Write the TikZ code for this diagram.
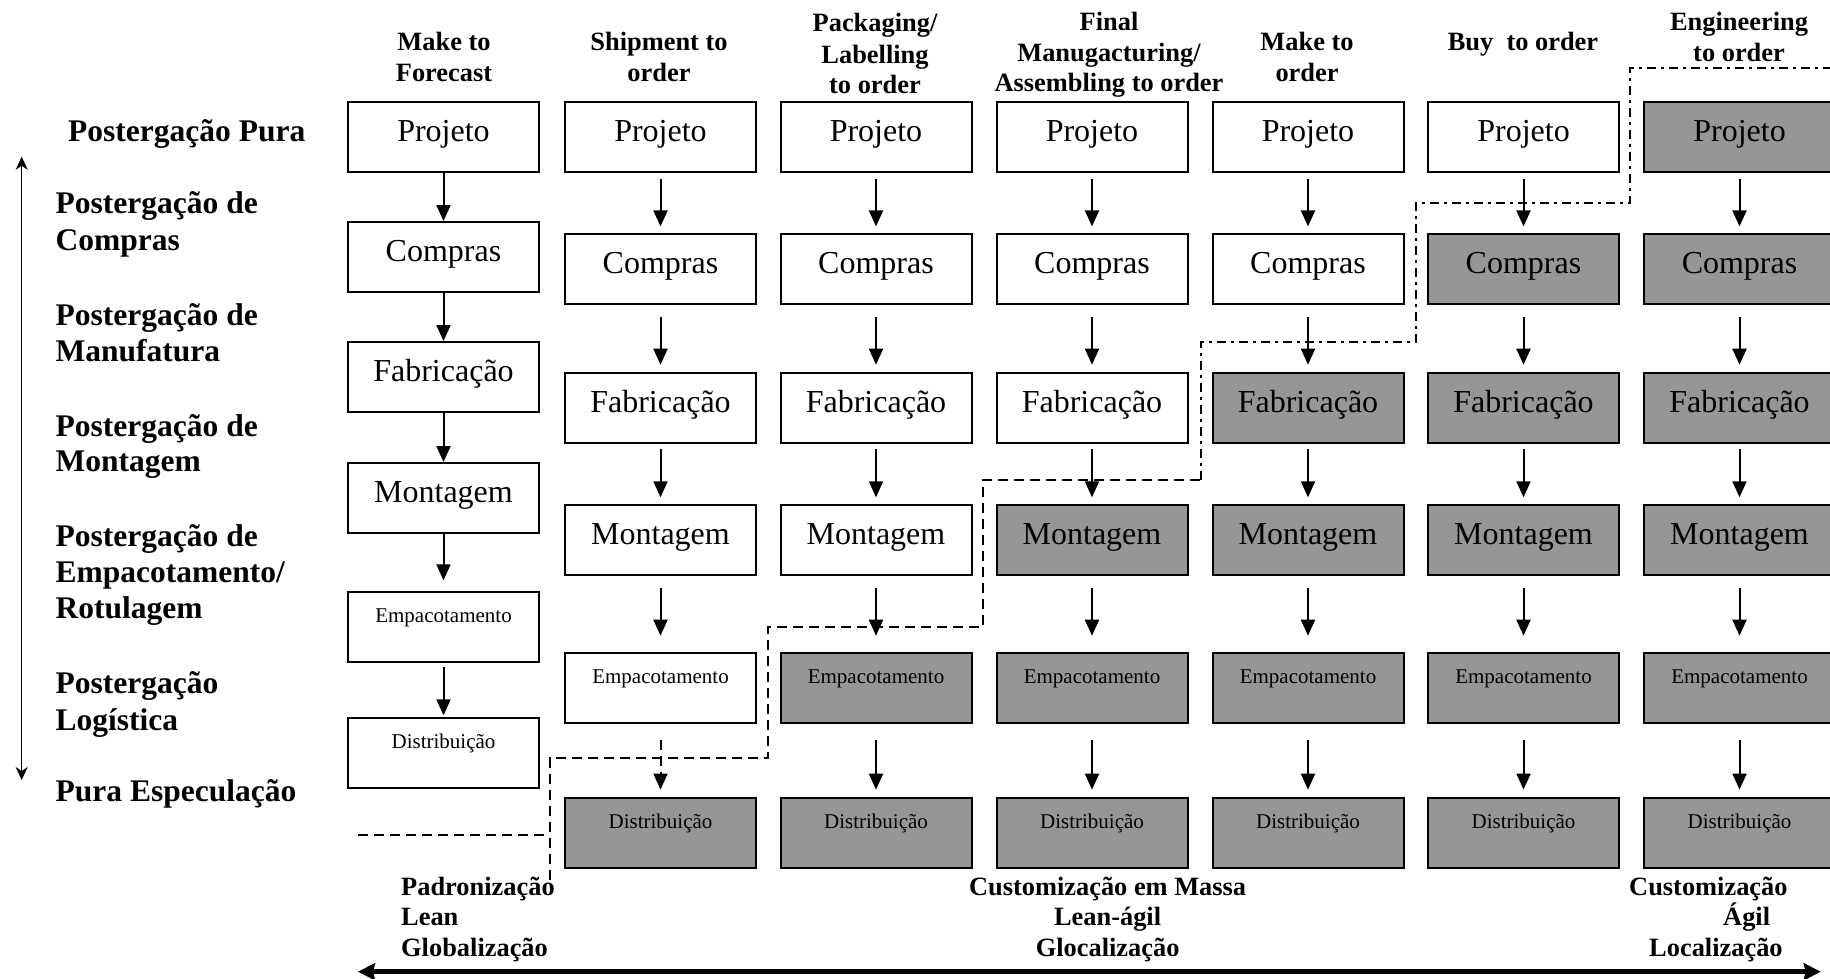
\documentclass[tikz,border=0pt]{standalone}
\usepackage{fontspec}
\setmainfont{Liberation Serif}
\usetikzlibrary{arrows.meta}
\definecolor{boxgray}{RGB}{150,150,150}
\begin{document}
\begin{tikzpicture}[x=1pt,y=-1pt,
  bigbox/.style={draw, line width=2pt, anchor=north west, minimum width=191pt, minimum height=70pt, inner sep=0pt, font=\fontsize{32}{38}\selectfont, text height=21.2pt, text depth=12pt},
  smallbox/.style={bigbox, font=\fontsize{21}{25}\selectfont, text height=13.9pt, text depth=23pt},
  arr/.style={line width=2pt, -{Triangle[length=16pt,width=14pt]}},
  hdr/.style={font=\bfseries\fontsize{26.4}{31}\selectfont, anchor=base, inner sep=0pt},
  lbl/.style={font=\bfseries\fontsize{31.5}{37}\selectfont, anchor=base west, inner sep=0pt},
  btm/.style={font=\bfseries\fontsize{26.4}{31}\selectfont, inner sep=0pt},
  bound/.style={line width=2pt, dash pattern=on 10pt off 6pt},
  bounddot/.style={line width=2pt, dash pattern=on 9pt off 5pt on 3pt off 5pt},
  thinarr/.style={line width=1.5pt, {Stealth[length=13pt,width=12pt,inset=4pt]}-{Stealth[length=13pt,width=12pt,inset=4pt]}},
  thickarr/.style={line width=5pt, {Stealth[length=17pt,width=17pt,inset=2pt]}-{Stealth[length=17pt,width=17pt,inset=2pt]}}]
\useasboundingbox (0,0) rectangle (1830,978);

% column 1 (Make to Forecast)
\foreach \r/\y/\t/\s in {1/101/Projeto/bigbox, 2/221/Compras/bigbox, 3/341/Fabricação/bigbox, 4/462/Montagem/bigbox, 5/591/Empacotamento/smallbox, 6/717/Distribuição/smallbox}{
  \node[\s, fill=white] (c1r\r) at (347,\y) {\t};
}
% columns 2-7
\foreach \c/\x/\g in {2/564/6,3/779.5/5,4/995.5/4,5/1211.5/3,6/1427/2,7/1643/1}{
  \foreach \r/\y/\t/\s in {1/101/Projeto/bigbox, 2/233/Compras/bigbox, 3/372/Fabricação/bigbox, 4/504/Montagem/bigbox, 5/652/Empacotamento/smallbox, 6/797/Distribuição/smallbox}{
    \ifnum\r<\g \def\fillst{white}\else \def\fillst{boxgray}\fi
    \node[\s, fill=\fillst] (c\c r\r) at (\x,\y) {\t};
  }
}

% arrows column 1
\draw[arr] (c1r1) -- (c1r2);
\draw[arr] (c1r2) -- (c1r3);
\draw[arr] (c1r3) -- (c1r4);
\draw[arr, shorten >=10.7pt] (c1r4) -- (c1r5);
\draw[arr, shorten <=4pt, shorten >=1.7pt] (c1r5) -- (c1r6);
% arrows columns 2-7
\foreach \c in {2,...,7}{
  \foreach \r/\n/\s/\e in {1/2/5.7/6.6, 2/3/12.3/7.3, 3/4/5.3/6.7, 4/5/12.3/16.3}{
    \draw[arr, shorten <=\s pt, shorten >=\e pt] (c\c r\r) -- (c\c r\n);
  }
}
\foreach \c in {3,...,7}{
  \draw[arr, shorten <=15.7pt, shorten >=7.4pt] (c\c r5) -- (c\c r6);
}
\draw[arr, dash pattern=on 10pt off 6pt, shorten <=15.7pt, shorten >=7.4pt] (c2r5) -- (c2r6);

% boundary lines
\draw[bound] (358,835) -- (550,835);
\draw[bound] (550,880) -- (550,758.3) -- (768,758.3) -- (768,626.7) -- (983,626.7) -- (983,480) -- (1201,480);
\draw[bounddot] (1201,480) -- (1201,341.7) -- (1416,341.7) -- (1416,203.3) -- (1630,203.3) -- (1630,68.3) -- (1835,68.3);

% column headers
\node[hdr] (h1a) at (444,50.7) {Make to};
\node[hdr] (h1b) at (444,81.7) {Forecast};
\node[hdr] (h2a) at (659,50) {Shipment to};
\node[hdr] (h2b) at (659,81.7) {order};
\node[hdr] (h3a) at (875,31.7) {Packaging/};
\node[hdr] (h3b) at (875,63) {Labelling};
\node[hdr] (h3c) at (875,93.3) {to order};
\node[hdr] (h4a) at (1109,30.7) {Final};
\node[hdr] (h4b) at (1109,61) {Manugacturing/};
\node[hdr] (h4c) at (1109,91.7) {Assembling to order};
\node[hdr] (h5a) at (1307,50) {Make to};
\node[hdr] (h5b) at (1307,81.7) {order};
\node[hdr] (h6a) at (1523,50.7) {Buy\ \ to order};
\node[hdr] (h7a) at (1739,30.7) {Engineering};
\node[hdr] (h7b) at (1739,61.7) {to order};

% row labels
\node[lbl] (l1) at (68,141.7) {Postergação Pura};
\node[lbl] (l2a) at (55.5,213.3) {Postergação de};
\node[lbl] (l2b) at (55.5,250) {Compras};
\node[lbl] (l3a) at (55.5,325) {Postergação de};
\node[lbl] (l3b) at (55.5,361.7) {Manufatura};
\node[lbl] (l4a) at (55.5,436) {Postergação de};
\node[lbl] (l4b) at (55.5,471.7) {Montagem};
\node[lbl] (l5a) at (55.5,546.7) {Postergação de};
\node[lbl] (l5b) at (55.5,582) {Empacotamento/};
\node[lbl] (l5c) at (55.5,618.3) {Rotulagem};
\node[lbl] (l6a) at (55.5,693.3) {Postergação};
\node[lbl] (l6b) at (55.5,730) {Logística};
\node[lbl] (l7) at (55.5,801.7) {Pura Especulação};

% vertical arrow
\coordinate (vtop) at (21.7,156.7);
\coordinate (vbot) at (21.7,780);
\draw[thinarr] (vtop) -- (vbot);

% bottom labels
\node[btm, anchor=base west] (b1a) at (401,895) {Padronização};
\node[btm, anchor=base west] (b1b) at (401,925) {Lean};
\node[btm, anchor=base west] (b1c) at (401,956.7) {Globalização};
\node[btm, anchor=base] (b2a) at (1107.6,895) {Customização em Massa};
\node[btm, anchor=base] (b2b) at (1107.6,925) {Lean-ágil};
\node[btm, anchor=base] (b2c) at (1107.6,956.7) {Glocalização};
\node[btm, anchor=base west] (b3a) at (1629,895) {Customização};
\node[btm, anchor=base west] (b3b) at (1723,925) {Ágil};
\node[btm, anchor=base west] (b3c) at (1649,956.7) {Localização};

% bottom arrow
\coordinate (hl) at (358,971.7);
\coordinate (hr) at (1820.7,971.7);
\draw[thickarr] (hl) -- (hr);
\end{tikzpicture}
\end{document}
